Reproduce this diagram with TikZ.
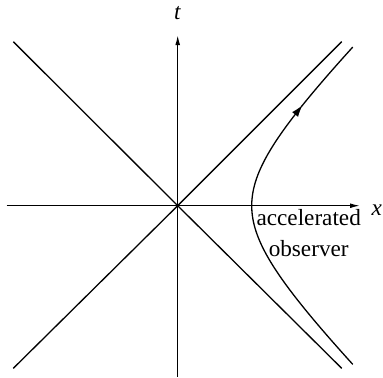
\documentclass[tikz,border=0pt]{standalone}
\usepackage{fontspec}
\setmainfont{Liberation Serif}
\usetikzlibrary{arrows.meta}
\begin{document}
\begin{tikzpicture}[x=0.5pt,y=0.5pt,
every path/.style={line width=0.65pt},
axis/.style={-{Latex[length=5pt,width=2.4pt]}},
lbl/.style={inner sep=0pt, font=\rmfamily\fontsize{11.6}{15.5}\selectfont}
]
\useasboundingbox (-177.7,-171.3) rectangle (205.3,205.7);
\coordinate (o) at (0,0);
\coordinate (xl) at (-171,0);
\coordinate (xr) at (182.3,0);
\coordinate (tb) at (0,-171);
\coordinate (tt) at (0,170.7);
\coordinate (ul) at (-164.4,164);
\coordinate (ur) at (164,164);
\coordinate (dl) at (-164.4,-162.6);
\coordinate (dr) at (164,-162.6);
\node[lbl] (t) at (0,192.4) {\textit{t}};
\node[lbl] (x) at (199,-4.3) {\textit{x}};
\node[lbl, align=center] (obs) at (131,-27.8) {accelerated\\observer};
\draw[axis] (xl) -- (xr);
\draw[axis] (tb) -- (tt);
\draw (ul) -- (o) -- (dr);
\draw (dl) -- (o) -- (ur);
% worldline
\draw[-{Latex[length=6pt,width=3.8pt]}] plot[domain=-1.506:1.115, samples=60, smooth] ({74*cosh(\x)},{74*sinh(\x)});
\draw plot[domain=1.1:1.506, samples=15, smooth] ({74*cosh(\x)},{74*sinh(\x)});
\end{tikzpicture}
\end{document}
